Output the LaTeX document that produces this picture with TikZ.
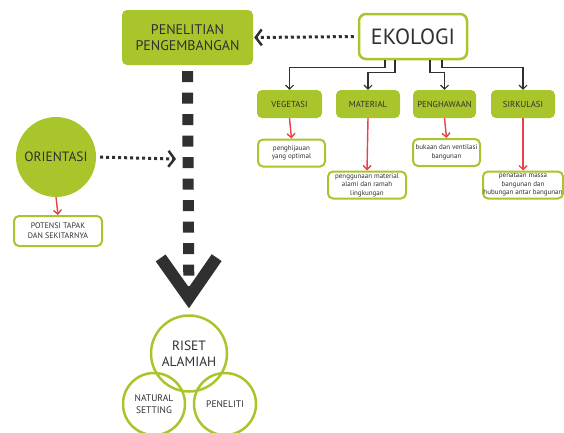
\documentclass[tikz,border=0pt]{standalone}
\usepackage{fontspec}
\setmainfont{PT Sans}
\usetikzlibrary{arrows.meta}

\definecolor{leaf}{HTML}{A8C62B}
\definecolor{ink}{HTML}{303030}
\definecolor{redline}{HTML}{E8404C}

\tikzset{
  greenbox/.style={fill=leaf, rounded corners=5pt, text=ink, align=center, inner sep=0pt},
  outbox/.style={draw=leaf, line width=2pt, fill=white, rounded corners=5pt, text=ink, align=center, inner sep=0pt},
  ring/.style={draw=leaf, line width=2.5pt, circle, text=ink, align=center, inner sep=0pt},
  con/.style={draw=ink, line width=1.1pt, -{Straight Barb[length=4pt,width=8pt]}},
  redarrow/.style={draw=redline, line width=1.4pt, -{Straight Barb[length=4pt,width=8pt]}},
  dotarrow/.style={draw=ink, line width=3pt, dash pattern=on 3pt off 3pt,
    -{Straight Barb[sharp,length=6pt,width=16pt,line width=2.5pt]}},
  bigarrow/.style={draw=ink, line width=11pt, dash pattern=on 11pt off 10.5pt,
    -{Straight Barb[sharp,length=40pt,width=56pt,line width=12pt]}}
}

\begin{document}
\begin{tikzpicture}[x=1pt,y=-1pt]
		%%%%% START %%%%%
		\useasboundingbox (0,0) rectangle (564,432);
		
		% top boxes
		\node[greenbox, minimum width=131pt, minimum height=55pt, font=\fontsize{14}{16}\selectfont] (pen) at (187.5,37.5) {PENELITIAN\\PENGEMBANGAN};
		\node[outbox, line width=2.5pt, rounded corners=7pt, minimum width=108pt, minimum height=45pt, font=\fontsize{22}{24}\selectfont] (eko) at (413,36.5) {EKOLOGI};
		
		% ekologi aspects
		\node[greenbox, minimum width=65pt, minimum height=28pt, font=\fontsize{8.7}{10}\selectfont] (veg) at (289.5,104) {VEGETASI};
		\node[greenbox, minimum width=64pt, minimum height=28pt, font=\fontsize{8.7}{10}\selectfont] (mat) at (368,104) {MATERIAL};
		\node[greenbox, minimum width=63pt, minimum height=28pt, font=\fontsize{8.7}{10}\selectfont] (peng) at (444.5,104) {PENGHAWAAN};
		\node[greenbox, minimum width=64pt, minimum height=28pt, font=\fontsize{8.7}{10}\selectfont] (sirk) at (523,104) {SIRKULASI};
		
		\node[outbox, minimum width=67pt, minimum height=27pt, font=\fontsize{7}{8.5}\selectfont] (veg-d) at (291.5,153) {penghijauan\\yang optimal};
		\node[outbox, minimum width=78pt, minimum height=27pt, font=\fontsize{7}{8.5}\selectfont] (mat-d) at (367,185) {penggunaan material\\alami dan ramah\\lingkungan};
		\node[outbox, minimum width=67pt, minimum height=27pt, font=\fontsize{7}{8.5}\selectfont] (peng-d) at (446.5,152.5) {bukaan dan ventilasi\\bangunan};
		\node[outbox, minimum width=80pt, minimum height=27pt, font=\fontsize{7}{8.5}\selectfont] (sirk-d) at (523,185) {penataan massa\\bangunan dan\\hubungan antar bangunan};
		
		\draw[con] ([xshift=-28pt]eko.south) -- ++(0,7) -| (veg.north);
		\draw[con] ([xshift=-18pt]eko.south) -- ++(0,12) -| (mat.north);
		\draw[con] ([xshift=17pt]eko.south) -- ++(0,12) -| (peng.north);
		\draw[con] ([xshift=29pt]eko.south) -- ++(0,7) -| (sirk.north);
		
		\draw[redarrow] (veg.south) -- (veg-d.north);
		\draw[redarrow] (mat.south) -- (mat-d.north);
		\draw[redarrow] (peng.south) -- (peng-d.north);
		\draw[redarrow] (sirk.south) -- (sirk-d.north);
		
		% orientasi
		\node[circle, fill=leaf, text=ink, minimum size=80pt, inner sep=0pt, font=\fontsize{13.5}{15}\selectfont] (ori) at (56,157) {ORIENTASI};
		\node[outbox, minimum width=88pt, minimum height=30pt, font=\fontsize{8}{10}\selectfont] (pot) at (58,231) {POTENSI TAPAK\\DAN SEKITARNYA};
		\coordinate (ori-end) at (176,159);
		\draw[redarrow] (ori.south) -- (pot.north);
		
		% riset
		\node[ring, minimum size=76pt, font=\fontsize{13.5}{16}\selectfont] (riset) at (189,353.5) {RISET\\ALAMIAH};
		\node[ring, minimum size=62pt, font=\fontsize{9.5}{12.5}\selectfont] (nat) at (154,404) {NATURAL\\SETTING};
		\node[ring, minimum size=62pt, font=\fontsize{9.5}{12}\selectfont] (pnl) at (225,404) {PENELITI};
		
		% dotted arrows
		\draw[dotarrow, shorten <=4pt, shorten >=1pt] (eko.west) -- (pen.east);
		\draw[dotarrow, shorten <=4pt] (ori.east) -- (ori-end);
		\draw[bigarrow, shorten <=6pt, shorten >=6pt] (pen.south) -- (riset.north);
		
		%%%%% END %%%%%
	\end{tikzpicture}
\end{document}
